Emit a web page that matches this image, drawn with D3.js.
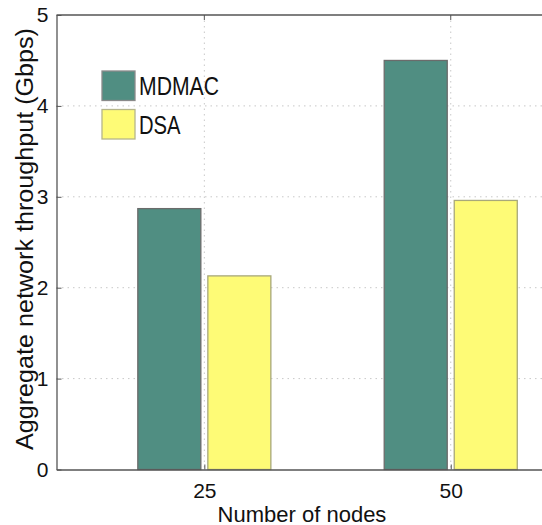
<!DOCTYPE html>
<html>
<head>
<meta charset="utf-8">
<script src="https://cdn.jsdelivr.net/npm/d3@7"></script>
<style>
  html, body { margin: 0; padding: 0; background: #fff; }
  svg { display: block; }
  text { font-family: "Liberation Sans", Arial, Helvetica, sans-serif; fill: #111; }
</style>
</head>
<body>
<svg id="chart" width="542" height="525"></svg>
<script>
// Aggregate throughput per network size
const categories = ["25", "50"];
const seriesNames = ["MDMAC", "DSA"];
const mdmacValues = [2.87, 4.5];
const dsaValues = [2.13, 2.96];
const yTicks = [0, 1, 2, 3, 4, 5];
const colors = { MDMAC: "#508e82", DSA: "#fefb76" };
const strokes = { MDMAC: "#6b6b6b", DSA: "#a8a87a" };

const values = { MDMAC: mdmacValues, DSA: dsaValues };

const svg = d3.select("#chart");
const plotLeft = 56.5, plotTop = 15, plotBottom = 469.5;

// Category positions 1..n on a linear axis, limits [0.4, 2.4]
const x = d3.scaleLinear().domain([0.4, 2.4]).range([plotLeft, plotLeft + 2 * 246.4]);
const y = d3.scaleLinear().domain([0, 5]).range([plotBottom, plotTop]);
const unit = x(1) - x(0);

const sub = d3.scaleBand().domain(seriesNames)
  .range([-0.27 * unit, 0.27 * unit]).paddingInner(0.1);

const plotRight = x.range()[1];

// dotted grid
const grid = svg.append("g");
yTicks.filter(t => t > 0 && t < 5).forEach(t => {
  grid.append("line").attr("x1", plotLeft).attr("x2", plotRight)
    .attr("y1", y(t)).attr("y2", y(t))
    .attr("stroke", "#c8c8c8").attr("stroke-width", 1).attr("stroke-dasharray", "1.5,4");
});
categories.forEach((c, i) => {
  grid.append("line").attr("x1", x(i + 1)).attr("x2", x(i + 1))
    .attr("y1", plotTop).attr("y2", plotBottom)
    .attr("stroke", "#c8c8c8").attr("stroke-width", 1).attr("stroke-dasharray", "1.5,4");
});

// bars
const rows = [];
categories.forEach((c, i) => seriesNames.forEach(s => rows.push({ i, s, v: values[s][i] })));
svg.append("g").selectAll("rect").data(rows).join("rect")
  .attr("x", d => x(d.i + 1) + sub(d.s))
  .attr("width", sub.bandwidth())
  .attr("y", d => y(d.v))
  .attr("height", d => y(0) - y(d.v))
  .attr("fill", d => colors[d.s])
  .attr("stroke", d => strokes[d.s])
  .attr("stroke-width", 1.3);

// axes (ticks pointing inward)
const axisColor = "#555";
const yAxis = svg.append("g").attr("transform", `translate(${plotLeft},0)`)
  .call(d3.axisLeft(y).tickValues(yTicks).tickFormat(d3.format("d")).tickSizeInner(-5).tickSizeOuter(0).tickPadding(8));
const xAxis = svg.append("g").attr("transform", `translate(0,${plotBottom})`)
  .call(d3.axisBottom(x).tickValues(categories.map((c, i) => i + 1))
    .tickFormat((d, i) => categories[i]).tickSizeInner(-5).tickSizeOuter(0).tickPadding(13.5));
[yAxis, xAxis].forEach(g => {
  g.select(".domain").attr("stroke", axisColor).attr("stroke-width", 1.3);
  g.selectAll(".tick line").attr("stroke", axisColor);
  g.selectAll(".tick text").attr("font-size", 21).attr("fill", "#111")
    .style("font-family", "'Liberation Sans', Arial, sans-serif");
});
// top frame line with its tick marks
svg.append("line").attr("x1", plotLeft).attr("x2", plotRight).attr("y1", plotTop).attr("y2", plotTop)
  .attr("stroke", axisColor).attr("stroke-width", 1.3);
categories.forEach((c, i) => {
  svg.append("line").attr("x1", x(i + 1)).attr("x2", x(i + 1))
    .attr("y1", plotTop).attr("y2", plotTop + 5).attr("stroke", axisColor);
});

// axis titles
svg.append("text").attr("x", 302).attr("y", 521.5)
  .attr("text-anchor", "middle").attr("font-size", 22).text("Number of nodes");
svg.append("text").attr("transform", "translate(33.2,239) rotate(-90)")
  .attr("text-anchor", "middle").attr("font-size", 23)
  .attr("textLength", 422).attr("lengthAdjust", "spacingAndGlyphs")
  .text("Aggregate network throughput (Gbps)");

// legend
const legend = svg.append("g").attr("transform", "translate(102,71)");
const legendWidths = { MDMAC: 80, DSA: 41.5 };
seriesNames.forEach((s, k) => {
  const g = legend.append("g").attr("transform", `translate(0,${k * 38.5})`);
  g.append("rect").attr("width", 33).attr("height", 29.5)
    .attr("fill", colors[s]).attr("stroke", k === 0 ? "#8a8a8a" : "#b5b58a").attr("stroke-width", 1.3);
  g.append("text").attr("x", 37).attr("y", 23.5 + k * 1)
    .attr("font-size", 26.5)
    .attr("textLength", legendWidths[s]).attr("lengthAdjust", "spacingAndGlyphs")
    .text(s);
});
</script>
</body>
</html>
